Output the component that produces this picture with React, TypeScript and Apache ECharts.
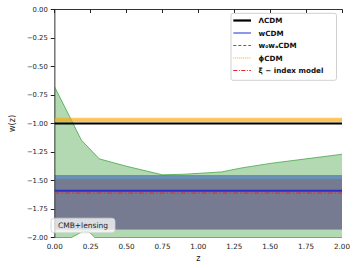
import React, { useEffect, useRef } from "react";
import * as echarts from "echarts";

// ---- data ----
const zRange = [0, 2];
const lcdmW = -1.0;
const wcdmW = -1.59;
const wcdmBand = [-1.93, -1.452];
const xiW = -1.61;
const xiBand = [-1.93, -1.487];
const phiW = -0.97;
const phiBand = [-0.99, -0.95];
const w0waUpperZ = [0, 0.1, 0.185, 0.31, 0.5, 0.75, 0.9, 1.16, 1.3, 1.5, 1.75, 2.0];
const w0waUpper = [-0.68, -0.93, -1.145, -1.31, -1.375, -1.45, -1.445, -1.425, -1.39, -1.35, -1.31, -1.27];
const w0waLowerZ = [0, 0.117, 0.2, 0.24, 0.279, 2.0];
const w0waLower = [-2.0, -2.0, -1.943, -1.952, -2.0, -2.0];
const xTicks = [0, 0.25, 0.5, 0.75, 1.0, 1.25, 1.5, 1.75, 2.0];
const legendNames = ["ΛCDM", "wCDM", "w₀wₐCDM", "ϕCDM", "ξ − index model"];
const annotation = "CMB+lensing";

const FONT = "DejaVu Sans";
const fmt = (v: number) => v.toFixed(2).replace("-", "−");

function bandSeries(band: number[], fill: string, z: number) {
  return {
    type: "custom",
    silent: true,
    z,
    data: [[zRange[0], band[0]]],
    renderItem: (_p: any, api: any) => {
      const a = api.coord([zRange[0], band[1]]);
      const b = api.coord([zRange[1], band[0]]);
      return {
        type: "rect",
        shape: { x: a[0], y: a[1], width: b[0] - a[0], height: b[1] - a[1] },
        style: { fill },
      };
    },
  };
}

function hLine(w: number, color: string, width: number, type: any, z: number) {
  return {
    type: "line",
    silent: true,
    z,
    showSymbol: false,
    symbol: "none",
    data: [
      [zRange[0], w],
      [zRange[1], w],
    ],
    lineStyle: { color, width, type },
  };
}

export default function App() {
  const ref = useRef<HTMLDivElement>(null);
  useEffect(() => {
    const chart = echarts.init(ref.current!, null, { renderer: "svg" });
    const legendX = 231;
    const rows = [20.5, 33, 45.5, 58, 70.5];
    const legendStyles: any[] = [
      { stroke: "#000", lineWidth: 2.2 },
      { stroke: "#1f2fd6", lineWidth: 1 },
      { stroke: "#139a13", lineWidth: 1, lineDash: [3, 2] },
      { stroke: "#f5a623", lineWidth: 1, lineDash: [1, 1] },
      { stroke: "#e8262a", lineWidth: 1, lineDash: [4, 1.5, 1, 1.5] },
    ];
    const legendGraphics: any[] = [
      {
        type: "rect",
        z: 100,
        shape: { x: legendX, y: 13.3, width: 105.5, height: 67, r: 2 },
        style: { fill: "rgba(255,255,255,0.85)", stroke: "#d0d0d0", lineWidth: 1 },
      },
    ];
    legendNames.forEach((n, i) => {
      legendGraphics.push({
        type: "line",
        z: 101,
        shape: { x1: 233.3, y1: rows[i], x2: 251, y2: rows[i] },
        style: legendStyles[i],
      });
      legendGraphics.push({
        type: "text",
        z: 101,
        x: 258.5,
        y: rows[i],
        style: {
          text: n,
          font: `bold 7.2px "${FONT}"`,
          fill: "#111",
          verticalAlign: "middle",
          align: "left",
        },
      });
    });

    const option: any = {
      animation: false,
      grid: { left: 46, top: 9.5, width: 296, height: 228 },
      xAxis: [
        {
          type: "value",
          min: 0,
          max: 2,
          interval: 0.25,
          name: "z",
          nameLocation: "middle",
          nameGap: 17,
          nameTextStyle: { fontFamily: FONT, fontSize: 8, color: "#222" },
          axisLine: { lineStyle: { color: "#222", width: 1 } },
          axisTick: { length: 3.5, lineStyle: { color: "#222" } },
          axisLabel: {
            formatter: fmt,
            fontFamily: FONT,
            fontSize: 7.2,
            color: "#222",
            margin: 5,
            customValues: xTicks,
          },
          splitLine: { show: false },
        },
        {
          type: "value",
          position: "top",
          min: 0,
          max: 2,
          axisLine: { lineStyle: { color: "#333", width: 1 } },
          axisTick: { show: false },
          axisLabel: { show: false },
          splitLine: { show: false },
        },
      ],
      yAxis: [
        {
          type: "value",
          min: -2,
          max: 0,
          interval: 0.25,
          name: "w(z)",
          nameLocation: "middle",
          nameGap: 31,
          nameRotate: 90,
          nameTextStyle: { fontFamily: FONT, fontSize: 8, color: "#222" },
          axisLine: { show: true, lineStyle: { color: "#222", width: 1 } },
          axisTick: { show: true, length: 4, lineStyle: { color: "#222" } },
          axisLabel: {
            formatter: fmt,
            fontFamily: FONT,
            fontSize: 6.8,
            color: "#222",
            margin: 7,
          },
          splitLine: { show: false },
        },
        {
          type: "value",
          position: "right",
          min: -2,
          max: 0,
          axisLine: { show: true, lineStyle: { color: "#9a9a9a", width: 1.5 } },
          axisTick: { show: false },
          axisLabel: { show: false },
          splitLine: { show: false },
        },
      ],
      series: [
        {
          type: "custom",
          silent: true,
          z: 1,
          data: [[w0waUpperZ[0], w0waUpper[0]]],
          renderItem: (_p: any, api: any) => {
            const pts: number[][] = [];
            for (let i = 0; i < w0waUpperZ.length; i++) pts.push(api.coord([w0waUpperZ[i], w0waUpper[i]]));
            for (let i = w0waLowerZ.length - 1; i >= 0; i--) pts.push(api.coord([w0waLowerZ[i], w0waLower[i]]));
            return { type: "polygon", shape: { points: pts }, style: { fill: "rgba(0,128,0,0.3)" } };
          },
        },
        {
          type: "line",
          silent: true,
          z: 2,
          symbol: "none",
          data: w0waUpperZ.map((z, i) => [z, w0waUpper[i]]),
          lineStyle: { color: "#2e9a2e", width: 0.8, opacity: 0.85 },
        },
        {
          type: "line",
          silent: true,
          z: 2,
          symbol: "none",
          data: w0waLowerZ.map((z, i) => [z, w0waLower[i]]),
          lineStyle: { color: "#2e9a2e", width: 0.8, opacity: 0.85 },
        },
        bandSeries(wcdmBand, "rgba(0,34,188,0.4)", 3),
        bandSeries(xiBand, "rgba(150,75,60,0.3)", 4),
        bandSeries(phiBand, "rgba(255,165,0,0.6)", 5),
        hLine(phiW, "#f5a623", 0.8, [1, 1], 6),
        hLine(lcdmW, "#000", 2.2, "solid", 7),
        hLine(wcdmW, "#2630c8", 2, "solid", 7),
        hLine(xiW, "#e8262a", 1, [5, 2, 1.5, 2], 8),
      ],
      graphic: [
        ...legendGraphics,
        {
          type: "rect",
          z: 100,
          shape: { x: 51, y: 218.2, width: 64, height: 14.6, r: 3 },
          style: { fill: "rgba(255,255,255,0.75)", stroke: "#cfcfcf", lineWidth: 0.8 },
        },
        {
          type: "text",
          z: 101,
          x: 83,
          y: 225.6,
          style: {
            text: annotation,
            font: `7.5px "${FONT}"`,
            fill: "#222",
            align: "center",
            verticalAlign: "middle",
          },
        },
      ],
    };
    chart.setOption(option);
    return () => chart.dispose();
  }, []);
  return (
    <div
      ref={ref}
      style={{ position: "fixed", left: 0, top: 0, width: 357, height: 268, background: "#fff" }}
    />
  );
}
